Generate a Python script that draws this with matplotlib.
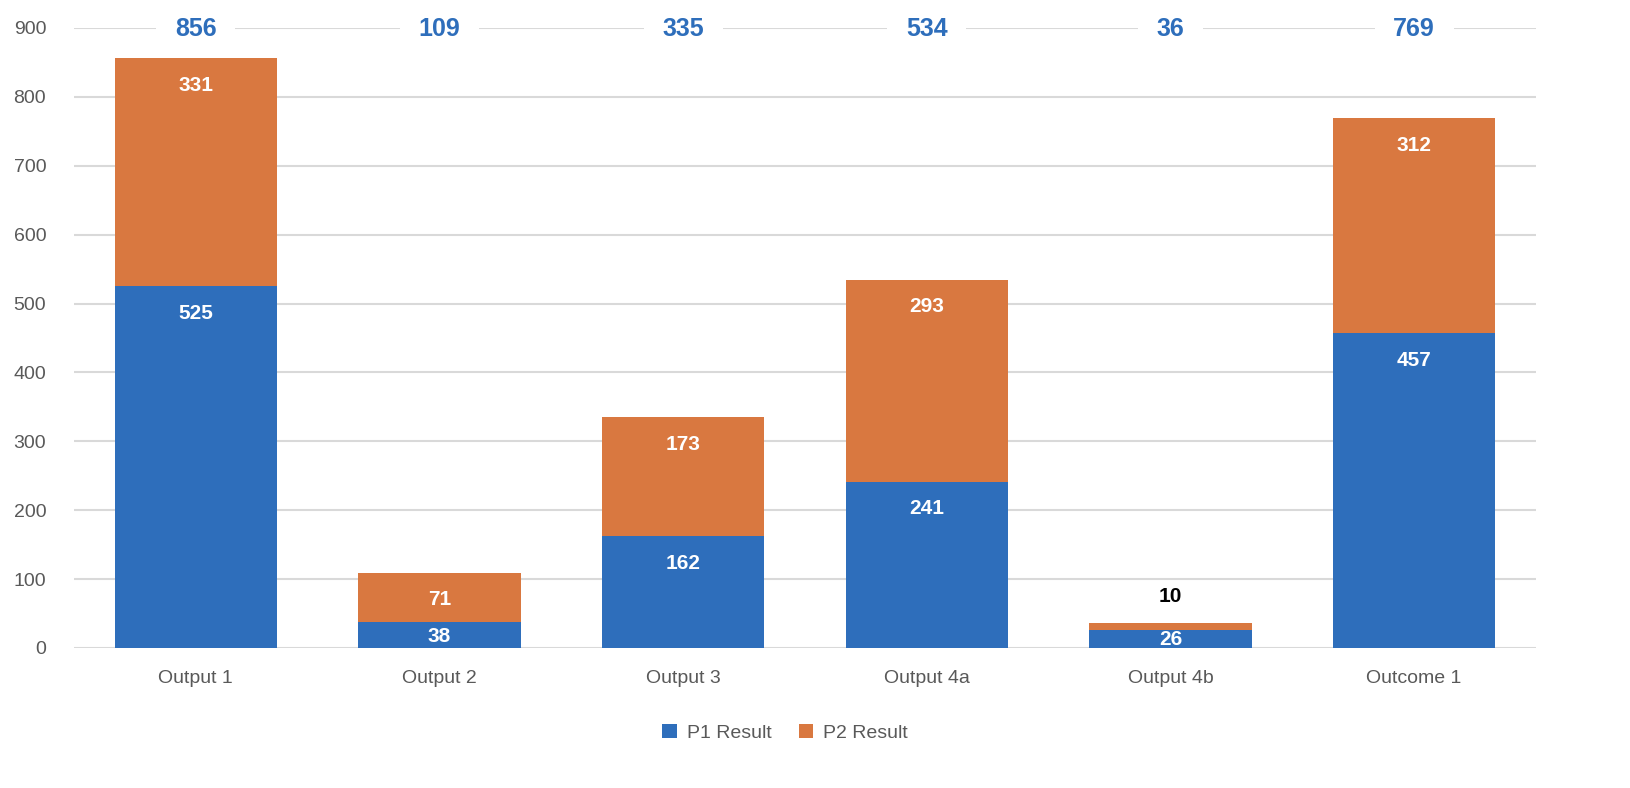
import matplotlib
matplotlib.use("Agg")
import matplotlib.pyplot as plt
import numpy as np

categories = ["Output 1", "Output 2", "Output 3", "Output 4a", "Output 4b", "Outcome 1"]
p1 = [525, 38, 162, 241, 26, 457]
p2 = [331, 71, 173, 293, 10, 312]
totals = [a + b for a, b in zip(p1, p2)]

BLUE = "#2E6EBB"
ORANGE = "#D97840"
GRID = "#D9D9D9"
TXT = "#595959"

plt.rcParams['font.family'] = ['Liberation Sans', 'DejaVu Sans']

fig = plt.figure(figsize=(16.3, 7.88), dpi=100)
ax = fig.add_axes([74/1630, 1 - 648/788, (1536-74)/1630, 620/788])

x = np.arange(len(categories))
w = 0.665
b1 = ax.bar(x, p1, w, color=BLUE, label="P1 Result", zorder=3)
b2 = ax.bar(x, p2, w, bottom=p1, color=ORANGE, label="P2 Result", zorder=3)

ax.set_xlim(-0.5, len(categories) - 0.5)
ax.set_ylim(0, 900)
ax.set_yticks(range(0, 901, 100))
ax.yaxis.grid(True, color=GRID, linewidth=1.5, zorder=0)
ax.set_axisbelow(True)
for s in ax.spines.values():
    s.set_visible(False)
ax.tick_params(axis='both', length=0, labelsize=14, labelcolor=TXT)
ax.tick_params(axis='y', pad=20)
ax.tick_params(axis='x', pad=16)
ax.set_xticks(x)
ax.set_xticklabels(categories)


def inside_end(bottom, h):
    off = min(39.0, h * 0.55)
    return bottom + h - off


for i in range(len(categories)):
    ax.text(x[i], inside_end(0, p1[i]), str(p1[i]), ha='center', va='center', color='white',
            fontsize=15, fontweight='bold', zorder=5)
    if p2[i] < 30:
        ax.annotate(str(p2[i]), (x[i], totals[i]), xytext=(0, 19), textcoords='offset points',
                    ha='center', va='center', color='black', fontsize=15, fontweight='bold', zorder=5)
    else:
        ax.text(x[i], inside_end(p1[i], p2[i]), str(p2[i]), ha='center', va='center', color='white',
                fontsize=15, fontweight='bold', zorder=5)
    ax.text(x[i], 898, str(totals[i]), ha='center', va='center', color=BLUE,
            fontsize=18, fontweight='bold', zorder=2, clip_on=False,
            bbox=dict(boxstyle='square,pad=0.75', facecolor='white', edgecolor='none'))

fig.legend(handles=[b1, b2], labels=["P1 Result", "P2 Result"], loc='center',
           bbox_to_anchor=(785/1630, 1 - 733/788), ncol=2, frameon=False, fontsize=14,
           labelcolor=TXT, handlelength=0.75, handleheight=0.75, columnspacing=1.4,
           handletextpad=0.5)

fig.savefig("out.png", dpi=100)
